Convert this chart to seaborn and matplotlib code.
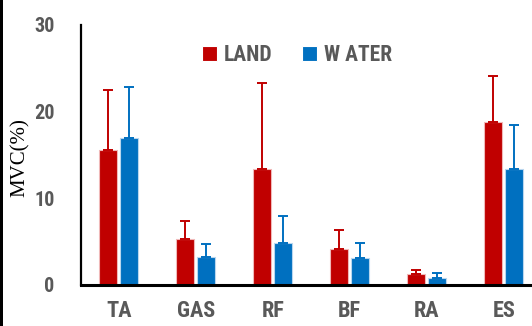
import matplotlib
matplotlib.use("Agg")
import matplotlib.pyplot as plt
from matplotlib.patches import Rectangle
from matplotlib import font_manager
import seaborn as sns
import pandas as pd

# Muscle groups and mean %MVC with upper SD for each condition
muscles = ["TA", "GAS", "RF", "BF", "RA", "ES"]
land_mean = [15.6, 5.3, 13.4, 4.1, 1.2, 18.8]
land_sd = [6.9, 2.0, 9.9, 2.2, 0.45, 5.3]
water_mean = [16.9, 3.2, 4.8, 3.05, 0.8, 13.4]
water_sd = [5.9, 1.5, 3.1, 1.7, 0.5, 5.0]
conditions = ["LAND", "W ATER"]

RED = "#C00000"
BLUE = "#0070C0"
GREY = "#595959"

names = {f.name for f in font_manager.fontManager.ttflist}
narrow = next((n for n in ["Roboto Condensed", "Arial Narrow", "Liberation Sans Narrow",
                           "PT Sans Narrow", "Archivo Narrow", "Open Sans Condensed",
                           "Roboto"] if n in names), "DejaVu Sans")

sns.set_theme(style="white")
plt.rcParams["font.family"] = [narrow, "DejaVu Sans"]

df = pd.DataFrame({
    "muscle": muscles * 2,
    "cond": [conditions[0]] * len(muscles) + [conditions[1]] * len(muscles),
    "mvc": land_mean + water_mean,
})

W, H = 532, 326
fig = plt.figure(figsize=(W / 100, H / 100), dpi=100, facecolor="white")
ax_left, ax_bottom = 81 / W, (H - 284.5) / H
ax_w, ax_h = 5.98 * 77 / W, (284.5 - 25) / H
ax = fig.add_axes([ax_left, ax_bottom, ax_w, ax_h])

sns.barplot(data=df, x="muscle", y="mvc", hue="cond", order=muscles,
            hue_order=conditions, palette=[RED, BLUE], width=0.55, gap=0.15,
            errorbar=None, saturation=1, ax=ax, linewidth=0.8)

sds = [land_sd, water_sd]
cols = [RED, BLUE]
edge_cols = ["#f0b8b8", "#b9d6ee"]
for cont, sd, c, ec in zip(ax.containers, sds, cols, edge_cols):
    xs, ys = [], []
    for bar in cont:
        bar.set_edgecolor(ec)
        xs.append(bar.get_x() + bar.get_width() / 2)
        ys.append(bar.get_height())
    ax.errorbar(xs, ys, yerr=[[0] * len(sd), sd], fmt="none", ecolor=c,
                elinewidth=1.4, capsize=3.3, capthick=1.4, zorder=3)

ax.set_xlim(-0.49, 5.49)
ax.set_ylim(0, 30)
ax.set_yticks([0, 10, 20, 30])
ax.set_xlabel("")
ax.set_ylabel("MVC(%)", family="Liberation Serif", fontsize=15,
              color="black")
ax.yaxis.set_label_coords((30 - 81) / (ax_w * W), 0.49)

for s in ["top", "right"]:
    ax.spines[s].set_visible(False)
ax.spines["left"].set_color("black")
ax.spines["left"].set_linewidth(1.6)
ax.spines["bottom"].set_color("black")
ax.spines["bottom"].set_linewidth(2.2)
ax.tick_params(axis="both", length=0, labelcolor=GREY)
ax.tick_params(axis="y", pad=19, labelsize=14.5)
ax.tick_params(axis="x", pad=11, labelsize=16)
for lab in ax.get_xticklabels() + ax.get_yticklabels():
    lab.set_fontweight("bold")

leg = ax.legend(loc="upper center", bbox_to_anchor=((297 - 81) / (ax_w * W), 1.0),
                ncol=2, frameon=False, handlelength=0.7, handleheight=0.7,
                handletextpad=0.3, columnspacing=1.4,
                prop={"family": narrow, "weight": "bold", "size": 15.5})
for t in leg.get_texts():
    t.set_color(GREY)

fig.patches.append(Rectangle((0, 0), 3 / W, 1, transform=fig.transFigure,
                             facecolor="black", edgecolor="none"))

fig.savefig("out.png", dpi=100, facecolor="white")
